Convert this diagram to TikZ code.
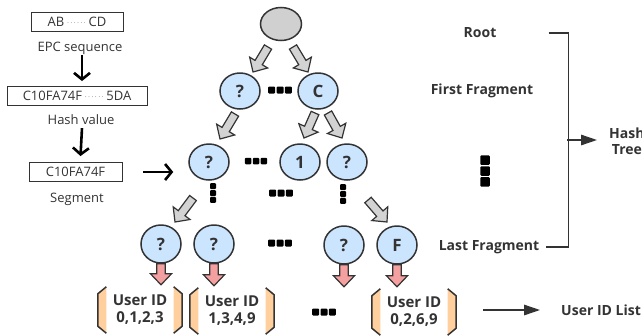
\documentclass[tikz,border=0pt]{standalone}
\usepackage{fontspec}
\setmainfont{Open Sans}
\usetikzlibrary{shapes.geometric,arrows.meta,calc}

\definecolor{ink}{HTML}{333333}
\definecolor{nodeblue}{HTML}{CCE5FF}
\definecolor{rootgrey}{HTML}{D0D0D0}
\definecolor{arrowgrey}{HTML}{D3D3D3}
\definecolor{idpink}{HTML}{F4A0A0}
\definecolor{peach}{HTML}{FFD09E}

% fat outlined arrow from #1 (tail) to #2 (tip), filled with #3
\newcommand\blockarrow[3]{%
  \filldraw[fill=#3, draw=ink, line width=1.2pt, line join=miter]
    let \p1=($(#2)-(#1)$), \n1={atan2(\y1,\x1)}, \n2={veclen(\x1,\y1)} in
    [shift={(#1)}, rotate=\n1]
    (0,4.2) -- (\n2-11,4.2) -- (\n2-11,10.5) -- (\n2,0) -- (\n2-11,-10.5)
    -- (\n2-11,-4.2) -- (0,-4.2) -- cycle;}

% peach brackets on both sides of a user-id node
\newcommand\userbrackets[1]{%
  \fill[peach] ($(#1.north west)+(8.5,0)$) -- ($(#1.north west)+(0,7)$)
    -- ($(#1.south west)+(0,-7)$) -- ($(#1.south west)+(8.5,0)$) -- cycle;
  \draw[bracketline] ($(#1.north west)+(8.5,0)$) -- ($(#1.north west)+(0,7)$)
    -- ($(#1.south west)+(0,-7)$) -- ($(#1.south west)+(8.5,0)$);
  \fill[peach] ($(#1.north east)+(-8.5,0)$) -- ($(#1.north east)+(0,7)$)
    -- ($(#1.south east)+(0,-7)$) -- ($(#1.south east)+(-8.5,0)$) -- cycle;
  \draw[bracketline] ($(#1.north east)+(-8.5,0)$) -- ($(#1.north east)+(0,7)$)
    -- ($(#1.south east)+(0,-7)$) -- ($(#1.south east)+(-8.5,0)$);}

\newcommand\seqdots{\hspace{3pt}\raisebox{2.8pt}{\fontsize{5.5}{5.5}\selectfont
  .\kern1.9pt.\kern1.9pt.\kern1.9pt.\kern1.9pt.\kern1.9pt.}\hspace{3pt}}

\tikzset{
  every node/.style={text=ink},
  seqbox/.style={draw=ink, line width=0.9pt, minimum height=19pt, inner sep=0pt,
    font=\fontsize{13}{14}\selectfont},
  seqlabel/.style={inner sep=0pt, font=\fontsize{13}{14}\selectfont},
  blackarrow/.style={line width=2.6pt, black, -{Straight Barb[length=6.5pt,width=16pt]}},
  treenode/.style={ellipse, draw=ink, line width=1.5pt, fill=nodeblue,
    minimum width=40pt, minimum height=36pt, inner sep=0pt,
    font=\bfseries\fontsize{17}{17}\selectfont},
  rootnode/.style={treenode, fill=rootgrey, minimum height=33pt, minimum width=41pt},
  userbox/.style={minimum width=84pt, minimum height=46pt, inner sep=0pt,
    align=center, font=\bfseries\fontsize{15}{17}\selectfont},
  bracketline/.style={draw=ink, line width=1.5pt, line join=miter},
  rlabel/.style={inner sep=0pt, font=\bfseries\fontsize{14}{16}\selectfont},
  thinline/.style={draw=ink, line width=1.4pt},
  thinarrow/.style={thinline, -{Triangle[length=16pt,width=10.5pt]}},
  pics/dotrow/.style={code={
    \foreach \i in {-1,0,1}
      \fill[black, rounded corners=1pt] (\i*#1*1.2-#1/2,-#1/2) rectangle ++(#1,#1);}},
  pics/dotcol/.style={code={
    \foreach \i in {-1,0,1}
      \fill[black, rounded corners=1pt] (-#1/2,\i*#1*1.15-#1/2) rectangle ++(#1,#1);}},
}

\begin{document}
\begin{tikzpicture}[x=1pt, y=-1pt]
\useasboundingbox (0,0) rectangle (642,335);

% ---- left column: from EPC to segment ----
\node[seqbox, minimum width=92pt] (epc) at (77,22) {AB\seqdots CD};
\node[seqlabel] (epclab) at (80,48) {EPC sequence};
\node[seqbox, minimum width=140pt] (hash) at (77,96) {C10FA74F\seqdots 5DA};
\node[seqlabel] (hashlab) at (81,120) {Hash value};
\node[seqbox, minimum width=93pt] (seg) at (75.5,172) {C10FA74F};
\node[seqlabel] (seglab) at (77,199) {Segment};

% ---- tree ----
\node[rootnode] (root) at (281,24) {};
\node[treenode] (l1a) at (240,91) {?};
\node[treenode] (l1b) at (318,91) {C};
\node[treenode] (l2a) at (209,162) {?};
\node[treenode] (l2b) at (300,162) {1};
\node[treenode] (l2c) at (347,162) {?};
\node[treenode, minimum height=38pt] (l3a) at (161,244) {?};
\node[treenode, minimum height=38pt] (l3b) at (214,244) {?};
\node[treenode, minimum height=38pt] (l3c) at (344,245) {?};
\node[treenode, minimum height=38pt] (l3d) at (397,245) {F};

% ---- user id lists ----
\node[userbox] (u1) at (140,310) {User ID\\0,1,2,3};
\node[userbox] (u2) at (232,311) {User ID\\1,3,4,9};
\node[userbox] (u3) at (414,312) {User ID\\0,2,6,9};
\userbrackets{u1}
\userbrackets{u2}
\userbrackets{u3}

% ---- right column ----
\node[rlabel] (rootlab) at (480,33) {Root};
\node[rlabel] (firstlab) at (482,91) {First Fragment};
\node[rlabel] (lastlab) at (489,247) {Last Fragment};
\node[rlabel, anchor=west, align=center] (hashtree) at (609,141) {Hash\\Tree};
\node[rlabel, anchor=west] (uidlist) at (561,310) {User ID List};

% ---- ellipsis marks ----
\pic at (280,90) {dotrow=7};
\pic at (256,161) {dotrow=6.5};
\pic at (281,193) {dotrow=7};
\pic at (280,243) {dotrow=7};
\pic at (324,312) {dotrow=7};
\pic at (213,193) {dotcol=6};
\pic at (343,194) {dotcol=6};
\pic at (485,171) {dotcol=9.5};

% ---- black arrows in the left column ----
\draw[blackarrow] ([xshift=2pt, yshift=-1pt]epclab.south) -- ([xshift=5pt, yshift=5pt]hash.north);
\draw[blackarrow] ([xshift=1pt, yshift=-3pt]hashlab.south) -- ([xshift=5pt, yshift=6pt]seg.north);
\draw[blackarrow] ([xshift=21pt]seg.east) -- ([xshift=-15pt]seg.east -| l2a.west);

% ---- grey tree arrows ----
\coordinate (ga1) at ($(root)+(-13,23)$);  \coordinate (gb1) at ($(l1a)+(13,-19)$);
\coordinate (ga2) at ($(root)+(12,23)$);   \coordinate (gb2) at ($(l1b)+(-10,-19)$);
\coordinate (ga3) at ($(l1a)+(-5,23)$);    \coordinate (gb3) at ($(l2a)+(11,-23)$);
\coordinate (ga4) at ($(l1b)+(-3,22)$);    \coordinate (gb4) at ($(l2b)+(4,-24)$);
\coordinate (ga5) at ($(l1b)+(10,22)$);    \coordinate (gb5) at ($(l2c)+(-5,-24)$);
\coordinate (ga6) at ($(l2a)+(-16,36)$);   \coordinate (gb6) at ($(l3a)+(14,-22)$);
\coordinate (ga7) at ($(l2c)+(21,38)$);    \coordinate (gb7) at ($(l3d)+(-10,-23)$);
\blockarrow{ga1}{gb1}{arrowgrey}
\blockarrow{ga2}{gb2}{arrowgrey}
\blockarrow{ga3}{gb3}{arrowgrey}
\blockarrow{ga4}{gb4}{arrowgrey}
\blockarrow{ga5}{gb5}{arrowgrey}
\blockarrow{ga6}{gb6}{arrowgrey}
\blockarrow{ga7}{gb7}{arrowgrey}

% ---- pink arrows down to the user id lists ----
\foreach \n/\u in {l3a/u1, l3b/u2, l3c/u3, l3d/u3}{
  \coordinate (pa) at (\n.south);
  \coordinate (pb) at ($(\n.south |- \u.north)+(0,-2)$);
  \blockarrow{pa}{pb}{idpink}
}

% ---- hash tree bracket and arrows ----
\coordinate (brtop) at ($(rootlab.east)+(52,0)$);
\coordinate (brbot) at ($(lastlab.east)+(7,0)$);
\draw[thinline] (brtop) -- ++(20,0) |- (brbot);
\coordinate (brmid) at ($(brtop)!0.5!(brbot)+(20,0)$);
\draw[thinarrow] (brmid) -- ([xshift=-12pt]hashtree.west |- brmid);
\draw[thinarrow] ([xshift=27pt, yshift=2pt]u3.east) -- ([xshift=-21pt]uidlist.west);
\end{tikzpicture}
\end{document}
